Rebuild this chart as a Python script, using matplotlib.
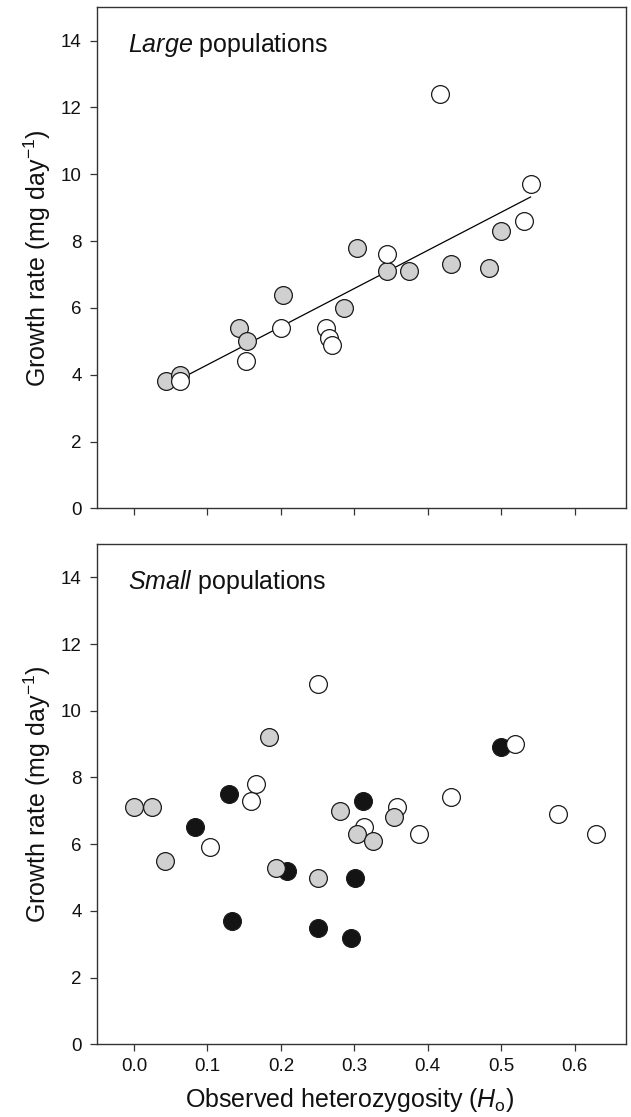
import matplotlib
matplotlib.use("Agg")
import matplotlib.pyplot as plt

plt.rcParams['font.family'] = ['Liberation Sans', 'DejaVu Sans']
plt.rcParams['mathtext.fontset'] = 'custom'
plt.rcParams['mathtext.rm'] = 'Liberation Sans'
plt.rcParams['mathtext.it'] = 'Liberation Sans:italic'

# large populations
large_gray_x = [0.044, 0.062, 0.143, 0.154, 0.203, 0.286, 0.304, 0.344, 0.375, 0.432, 0.483, 0.500]
large_gray_y = [3.8, 4.0, 5.4, 5.0, 6.4, 6.0, 7.8, 7.1, 7.1, 7.3, 7.2, 8.3]
large_open_x = [0.062, 0.153, 0.200, 0.262, 0.265, 0.270, 0.344, 0.417, 0.531, 0.540]
large_open_y = [3.8, 4.4, 5.4, 5.4, 5.1, 4.9, 7.6, 12.4, 8.6, 9.7]
fit_x = [0.0625, 0.540]
fit_y = [3.87, 9.32]

# small populations
small_black_x = [0.083, 0.129, 0.134, 0.208, 0.250, 0.295, 0.301, 0.312, 0.500]
small_black_y = [6.5, 7.5, 3.7, 5.2, 3.5, 3.2, 5.0, 7.3, 8.9]
small_open_x = [0.104, 0.166, 0.159, 0.250, 0.313, 0.358, 0.388, 0.432, 0.519, 0.578, 0.629]
small_open_y = [5.9, 7.8, 7.3, 10.8, 6.5, 7.1, 6.3, 7.4, 9.0, 6.9, 6.3]
small_gray_x = [0.000, 0.024, 0.042, 0.184, 0.194, 0.250, 0.281, 0.303, 0.325, 0.354]
small_gray_y = [7.1, 7.1, 5.5, 9.2, 5.3, 5.0, 7.0, 6.3, 6.1, 6.8]

xticks = [0.0, 0.1, 0.2, 0.3, 0.4, 0.5, 0.6]
yticks = [0, 2, 4, 6, 8, 10, 12, 14]

GRAY = "#d0d0d0"
BLACK = "#141414"
EDGE = "#1a1a1a"
MS = 12.8


def dots(ax, x, y, face, z):
    ax.plot(x, y, 'o', ms=MS, mfc=face, mec=EDGE, mew=0.9, ls='none', zorder=z)


def style_axes(ax, word):
    ax.set_xlim(-0.05, 0.67)
    ax.set_ylim(0, 15)
    ax.set_xticks(xticks)
    ax.set_yticks(yticks)
    ax.tick_params(direction='out', length=5.2, width=0.9, color='#333333',
                   labelsize=13.5, labelcolor='#111111')
    ax.tick_params(axis='y', pad=6)
    ax.tick_params(axis='x', pad=4.5)
    for s in ax.spines.values():
        s.set_linewidth(1.0)
        s.set_color('#333333')
    ax.set_ylabel(r'Growth rate (mg day$^{-1}$)', fontsize=18, labelpad=6, color='#111111')
    ax.text(0.058, 0.911, r'$\it{' + word + '}$ populations', transform=ax.transAxes,
            fontsize=18, va='baseline', ha='left', color='#111111')


fig = plt.figure(figsize=(6.31, 11.17), dpi=100)
ax1 = fig.add_axes([0.1542, 0.5449, 0.8379, 0.4486])
ax2 = fig.add_axes([0.1542, 0.0651, 0.8379, 0.4479])

ax1.plot(fit_x, fit_y, color='black', lw=0.9, zorder=1)
dots(ax1, large_gray_x, large_gray_y, GRAY, 2)
dots(ax1, large_open_x, large_open_y, 'white', 3)
style_axes(ax1, 'Large')
ax1.set_xticklabels([])

dots(ax2, small_black_x, small_black_y, BLACK, 2)
dots(ax2, small_open_x, small_open_y, 'white', 3)
dots(ax2, small_gray_x, small_gray_y, GRAY, 4)
style_axes(ax2, 'Small')
ax2.set_xlabel(r'Observed heterozygosity ($\it{H}_{\rm o}$)', fontsize=18, labelpad=8,
               color='#111111')
ax2.xaxis.label.set_x(0.477)

plt.savefig("out.png", dpi=100)
